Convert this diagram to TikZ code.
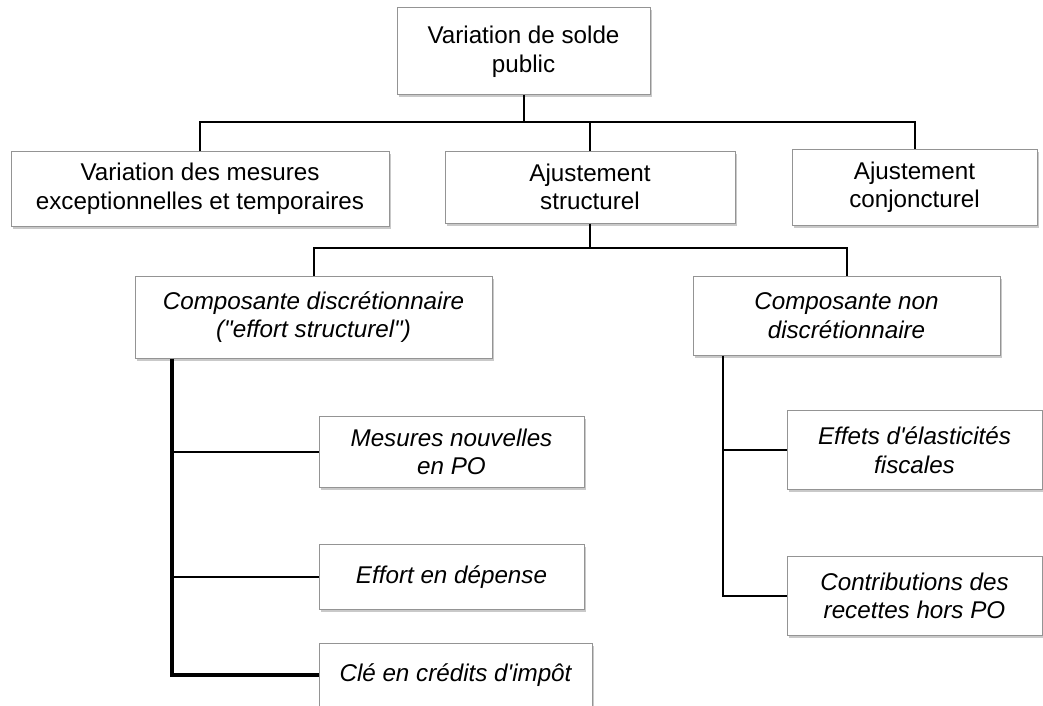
\documentclass[tikz,border=0pt]{standalone}
\usepackage{fontspec}
\setmainfont{Liberation Sans}[Ligatures=TeXOff]
\usetikzlibrary{shadows}
\begin{document}
\begin{tikzpicture}[x=1pt,y=-1pt,
  box/.style={draw=black!42, line width=1pt, fill=white, align=center,
    inner sep=0pt, font=\fontsize{24.2}{28.5}\selectfont,
    drop shadow={shadow xshift=2pt, shadow yshift=-2.5pt, opacity=0.3, fill=black!70}},
  ibox/.style={box, font=\fontsize{24.2}{28.5}\selectfont\itshape},
  conn/.style={draw=black, line width=2pt},
  thickconn/.style={draw=black, line width=4pt}]
\useasboundingbox (0,0) rectangle (1043,706);
% level 0
\node[box, minimum width=253pt, minimum height=87pt] (top) at (523.5,51.5) {Variation de solde\\public};
% level 1
\node[box, minimum width=378pt, minimum height=75pt] (mes) at (200,188.5) {Variation des mesures\\exceptionnelles et temporaires};
\node[box, minimum width=290pt, minimum height=72pt] (ajs) at (590,187) {Ajustement\\structurel};
\node[box, minimum width=245pt, minimum height=76pt] (ajc) at (914.5,187) {Ajustement\\conjoncturel};
% level 2
\node[ibox, minimum width=357pt, minimum height=82pt] (cd) at (313.5,317) {Composante discrétionnaire\\("effort structurel")};
\node[ibox, minimum width=307pt, minimum height=79pt] (cnd) at (846.5,315.5) {Composante non\\discrétionnaire};
% level 3 left
\node[ibox, minimum width=265pt, minimum height=71pt] (mn) at (451.5,452) {Mesures nouvelles\\en PO};
\node[ibox, minimum width=265pt, minimum height=65pt] (ed) at (451.5,577) {Effort en dépense};
\node[ibox, minimum width=273pt, minimum height=64pt] (cle) at (455.5,675) {Clé en crédits d'impôt};
% level 3 right
\node[ibox, minimum width=255pt, minimum height=79pt] (eef) at (914.5,450) {Effets d'élasticités\\fiscales};
\node[ibox, minimum width=255pt, minimum height=79pt] (crh) at (914.5,596) {Contributions des\\recettes hors PO};
% junction coordinates
\coordinate (bar1) at (523.5,122);
\coordinate (bar2) at (590,248);
\coordinate (lx) at (172,0);
\coordinate (rx) at (723,0);
% connectors level 0 -> 1
\draw[conn] (top.south) -- (bar1);
\draw[conn] (mes.north) |- (bar1) -| (ajc.north);
\draw[conn] (ajs.north) -- (ajs.north |- bar1);
% level 1 -> 2
\draw[conn] (ajs.south) -- (bar2);
\draw[conn] (cd.north) |- (bar2) -| (cnd.north);
% left subtree
\draw[thickconn] (cd.south -| lx) |- (cle.west);
\draw[conn] (lx |- mn.west) -- (mn.west);
\draw[conn] (lx |- ed.west) -- (ed.west);
% right subtree
\draw[conn] (cnd.south -| rx) |- (crh.west);
\draw[conn] (rx |- eef.west) -- (eef.west);
\end{tikzpicture}
\end{document}
